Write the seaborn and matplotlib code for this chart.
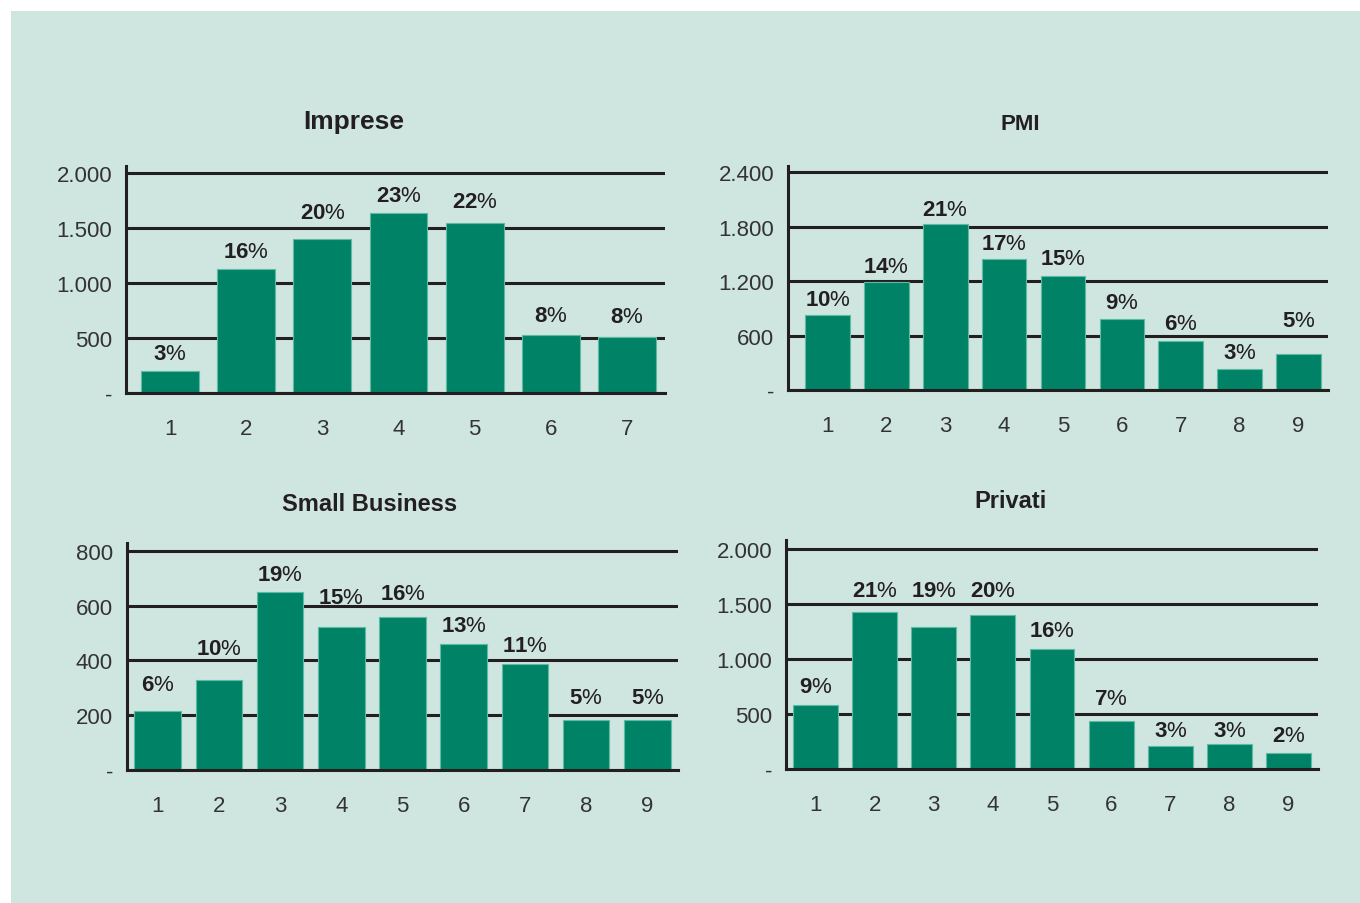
import matplotlib
matplotlib.use("Agg")
import numpy as np
import pandas as pd
import matplotlib.pyplot as plt
import seaborn as sns
from matplotlib.patches import Rectangle
from matplotlib.ticker import FixedLocator

# ---- data -------------------------------------------------------------
imprese_classes = ["1", "2", "3", "4", "5", "6", "7"]
imprese_values = [200, 1125, 1400, 1641, 1550, 529, 511]
imprese_pct = [3, 16, 20, 23, 22, 8, 8]
imprese_yticks = [0, 500, 1000, 1500, 2000]
imprese_ylabels = ["-", "500", "1.000", "1.500", "2.000"]

pmi_classes = ["1", "2", "3", "4", "5", "6", "7", "8", "9"]
pmi_values = [824, 1185, 1826, 1443, 1259, 780, 545, 228, 397]
pmi_pct = [10, 14, 21, 17, 15, 9, 6, 3, 5]
pmi_yticks = [0, 600, 1200, 1800, 2400]
pmi_ylabels = ["-", "600", "1.200", "1.800", "2.400"]

small_classes = ["1", "2", "3", "4", "5", "6", "7", "8", "9"]
small_values = [215, 328, 650, 522, 559, 461, 387, 182, 182]
small_pct = [6, 10, 19, 15, 16, 13, 11, 5, 5]
small_yticks = [0, 200, 400, 600, 800]
small_ylabels = ["-", "200", "400", "600", "800"]

privati_classes = ["1", "2", "3", "4", "5", "6", "7", "8", "9"]
privati_values = [582, 1424, 1288, 1400, 1088, 433, 206, 224, 145]
privati_pct = [9, 21, 19, 20, 16, 7, 3, 3, 2]
privati_yticks = [0, 500, 1000, 1500, 2000]
privati_ylabels = ["-", "500", "1.000", "1.500", "2.000"]

# extra lift (px) of each percentage label, keeping it clear of the grid lines
imprese_lift = [-1, -1, 8, -2, 2, 0, 1]
pmi_lift = [-3, -3, -4, -3, -2, -2, -2, -2, 15]
small_lift = [8, 13, -1, 11, 5, -1, 0, 4, 4]
privati_lift = [0, 3, 18, 6, 0, 4, -3, -5, -1]

# ---- style ------------------------------------------------------------
sns.set_style("white")
plt.rcParams["font.family"] = ["Liberation Sans", "DejaVu Sans"]
plt.rcParams["mathtext.fontset"] = "custom"
plt.rcParams["mathtext.rm"] = "Liberation Sans"
plt.rcParams["mathtext.bf"] = "Liberation Sans:bold"

PANEL = "#cfe5df"
BAR = "#008266"
BAR_EDGE = "#5cbca2"
INK = "#231f20"
TICK_INK = "#333333"
W, H = 1360, 904

fig = plt.figure(figsize=(W / 100, H / 100), dpi=100)
fig.patch.set_facecolor("white")
fig.patches.append(Rectangle((11 / W, 0), 1, 1 - 12 / H, transform=fig.transFigure,
                             facecolor=PANEL, edgecolor="none", zorder=-10))


def px_axes(left, right, baseline, top):
    """Axes placed by pixel edges (top-left origin)."""
    ax = fig.add_axes([left / W, 1 - baseline / H, (right - left) / W, (baseline - top) / H])
    ax.set_zorder(1)
    return ax


def panel(ax, classes, values, pct, lift, yticks, ylabels, ymax, xpad,
          title, title_xy, title_size):
    df = pd.DataFrame({"classe": classes, "valore": values})
    sns.barplot(data=df, x="classe", y="valore", color=BAR, saturation=1, width=0.76,
                edgecolor=BAR_EDGE, linewidth=0.8, errorbar=None, ax=ax)
    n = len(classes)
    x0 = -0.5 - xpad
    ax.patch.set_visible(False)
    ax.set_xlim(x0, n - 0.5)
    ax.set_ylim(0, ymax)
    ax.set_xlabel("")
    ax.set_ylabel("")
    ax.set_axisbelow(True)

    ax.set_yticks(yticks)
    ax.set_yticklabels(ylabels)
    ax.yaxis.grid(True, color=INK, linewidth=2.2)
    ax.xaxis.grid(False)

    for side in ("top", "right"):
        ax.spines[side].set_visible(False)
    for side in ("left", "bottom"):
        ax.spines[side].set_color(INK)
        ax.spines[side].set_linewidth(2.2)

    ax.xaxis.set_minor_locator(FixedLocator([x0] + list(np.arange(0.5, n, 1.0))))
    ax.tick_params(axis="x", which="minor", length=6.5, width=2.2, color=INK, direction="out")
    ax.tick_params(axis="x", which="major", length=0, pad=18, labelsize=16, labelcolor=TICK_INK)
    ax.tick_params(axis="y", which="major", length=0, pad=10, labelsize=16, labelcolor=TICK_INK)

    for i, (v, p, dy) in enumerate(zip(values, pct, lift)):
        ax.annotate(r"$\mathbf{%d}$%%" % p, (i, v), xytext=(0, 6 + dy * 0.72),
                    textcoords="offset points", ha="center", va="bottom",
                    fontsize=16, color=INK)

    fig.text(title_xy[0] / W, 1 - title_xy[1] / H, title, ha="center", va="center",
             fontsize=title_size, fontweight="bold", color=INK)


ax1 = px_axes(126, 665, 394, 167)
panel(ax1, imprese_classes, imprese_values, imprese_pct, imprese_lift, imprese_yticks,
      imprese_ylabels, 2064, 0.08, "Imprese", (354, 122), 19)

ax2 = px_axes(788, 1328, 391, 167)
panel(ax2, pmi_classes, pmi_values, pmi_pct, pmi_lift, pmi_yticks, pmi_ylabels,
      2469, 0.17, "PMI", (1020, 125), 16)

ax3 = px_axes(127, 678, 771, 544)
panel(ax3, small_classes, small_values, small_pct, small_lift, small_yticks, small_ylabels,
      829, 0.0, "Small Business", (370, 505), 17)

ax4 = px_axes(786, 1318, 770, 541)
panel(ax4, privati_classes, privati_values, privati_pct, privati_lift, privati_yticks,
      privati_ylabels, 2082, 0.0, "Privati", (1010, 502), 17)

fig.savefig("out.png", dpi=100, facecolor=fig.get_facecolor())
